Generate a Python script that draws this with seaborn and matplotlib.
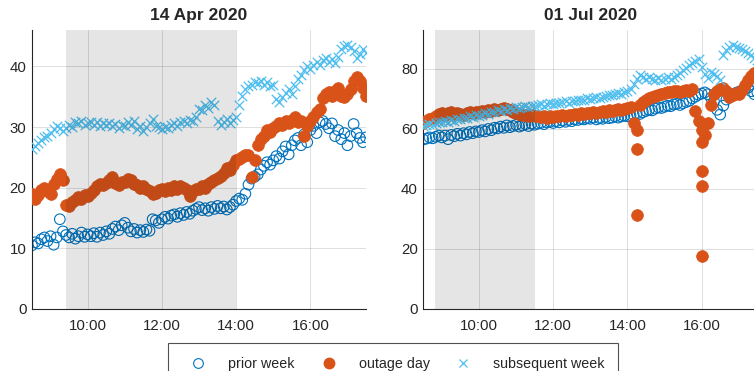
import numpy as np
import pandas as pd
import matplotlib
matplotlib.use("Agg")
import matplotlib.pyplot as plt
from matplotlib.lines import Line2D
import seaborn as sns

# ---------------- data (5-minute samples, 08:30 .. 17:30) ----------------
titles = ["14 Apr 2020", "01 Jul 2020"]
series_names = ["prior week", "outage day", "subsequent week"]
xtick_hours = [10, 12, 14, 16]
xtick_labels = ["10:00", "12:00", "14:00", "16:00"]
yticks_left = [0, 10, 20, 30, 40]
yticks_right = [0, 20, 40, 60, 80]
shade_left = (9.42, 14.0)
shade_right = (8.82, 11.51)

# 14 Apr 2020
apr_prior = [10.5, 11.0, 10.8, 11.5, 11.8, 11.2,
             12.0, 10.6, 11.8, 14.8, 12.8, 12.2, 11.8, 12.4, 11.6, 12.0, 12.6, 11.9,
             12.3, 12.0, 12.5, 11.9, 12.6, 12.2, 12.8, 12.4, 13.2, 13.6, 13.0, 13.8,
             14.2, 13.4, 12.8, 13.2, 12.6, 13.0, 12.7, 13.1, 12.9, 14.8, 14.6, 14.2,
             14.8, 15.2, 14.9, 15.4, 15.6, 15.2, 15.8, 15.5, 16.0, 15.7, 16.2, 16.5,
             16.8, 16.3, 16.6, 16.2, 16.8, 16.5, 17.0, 16.6, 16.9, 16.4, 16.8, 17.2,
             17.8, 18.2, 18.0, 19.0, 20.5, 21.5, 21.8, 22.2, 23.0, 23.6, 24.2, 23.8,
             24.5, 25.2, 24.8, 26.0, 26.8, 25.5, 27.0, 27.8, 28.2, 27.0, 28.8, 27.5,
             29.5, 30.2, 29.0, 30.8, 31.0, 30.5, 29.8, 30.6, 28.5, 29.5, 28.0, 29.0,
             27.0, 28.5, 30.5, 29.0, 28.2, 27.5, 28.3]
apr_outage = [19.0, 18.2, 18.8, 19.6, 20.0, 19.4,
              19.0, 20.6, 21.4, 22.3, 21.2, 17.2, 17.0, 17.6, 18.0, 18.4, 18.2, 18.8,
              18.6, 19.2, 19.6, 20.2, 20.6, 20.4, 20.8, 21.2, 21.7, 20.8, 20.5, 20.9,
              21.0, 21.5, 21.2, 20.6, 20.4, 20.0, 20.2, 19.8, 19.4, 18.9, 19.2, 19.6,
              19.8, 19.4, 20.0, 19.6, 20.2, 19.8, 20.3, 19.9, 19.6, 18.6, 19.4, 19.8,
              19.8, 20.2, 20.0, 20.6, 21.0, 21.2, 21.6, 22.0, 22.4, 23.2, 23.0, 23.8,
              24.6, 24.8, 25.0, 25.4, 25.4, 21.8, 24.5, 27.0, 28.0, 28.5, 29.5, 29.2,
              29.8, 30.2, 30.6, 30.4, 31.0, 30.6, 31.2, 31.6, 30.8, 31.0, 28.5, 30.2,
              31.0, 31.6, 32.4, 33.0, 34.8, 35.4, 35.8, 35.2, 36.0, 36.4, 35.2, 35.0,
              35.4, 36.2, 37.6, 38.2, 37.6, 36.4, 35.2]
apr_subsequent = [26.3, 26.8, 27.4, 27.8, 28.4, 28.6,
                  29.0, 29.6, 30.2, 29.8, 29.4, 29.8, 30.4, 30.0, 30.8, 30.6, 31.0, 30.4,
                  30.6, 30.9, 30.4, 30.8, 30.2, 30.6, 30.3, 30.7, 30.2, 30.5, 29.8, 30.4,
                  30.2, 30.8, 30.4, 31.0, 29.6, 30.2, 29.4, 30.0, 30.6, 31.4, 30.2, 30.0,
                  29.6, 30.0, 29.8, 30.4, 30.6, 30.2, 30.8, 31.0, 30.6, 31.2, 31.0, 31.6,
                  33.0, 32.8, 33.6, 33.2, 34.2, 33.6, 31.0, 30.4, 30.8, 31.4, 30.6, 31.2,
                  31.6, 33.6, 35.2, 36.2, 36.8, 37.0, 37.4, 37.2, 37.6, 37.0, 37.4, 36.8,
                  37.0, 34.6, 34.2, 35.0, 35.6, 36.2, 35.4, 36.8, 38.0, 38.6, 39.4, 40.0,
                  39.6, 40.2, 40.8, 40.2, 41.0, 41.4, 40.8, 41.2, 40.6, 41.6, 42.8, 43.4,
                  43.6, 43.2, 42.6, 41.4, 42.0, 42.8, 42.2]

# 01 Jul 2020
jul_prior = [56.5, 56.8, 57.2, 56.9, 57.4, 57.8,
             57.2, 57.8, 56.6, 58.0, 57.6, 58.4, 57.8, 58.6, 58.2, 59.0, 58.6, 59.2,
             59.0, 59.6, 59.2, 60.0, 59.6, 60.4, 60.2, 60.8, 60.4, 61.2, 60.6, 61.0,
             61.4, 60.8, 61.2, 61.6, 61.0, 61.8, 61.4, 61.8, 62.0, 61.6, 62.2, 62.4,
             62.0, 62.6, 62.2, 62.8, 62.4, 63.0, 62.6, 63.2, 63.0, 63.4, 63.2, 63.6,
             63.4, 63.8, 63.2, 63.6, 63.4, 64.0, 63.6, 63.8, 64.2, 63.8, 64.2, 64.4,
             64.2, 64.6, 64.8, 65.2, 65.0, 65.6, 66.0, 66.4, 66.2, 66.8, 67.2, 67.0,
             67.4, 67.8, 67.6, 68.2, 68.4, 68.0, 68.6, 69.0, 69.4, 70.2, 70.8, 71.4,
             71.8, 72.2, 71.6, 70.4, 69.2, 66.4, 64.8, 67.8, 69.8, 70.6, 71.4, 72.0,
             72.4, 72.8, 73.4, 73.8, 72.6, 71.6, 72.2]
jul_outage = [62.0, 62.6, 63.2, 63.8, 64.4, 65.0,
              65.4, 64.8, 65.2, 65.6, 64.8, 65.4, 65.0, 64.6, 65.2, 65.6, 65.2, 65.8,
              65.6, 66.0, 65.8, 66.4, 66.0, 66.6, 66.2, 66.8, 67.0, 66.6, 66.2, 65.8,
              65.4, 65.0, 64.6, 64.8, 64.4, 64.6, 64.2, 64.4, 64.0, 64.2, 63.8, 64.2,
              64.0, 64.4, 64.2, 64.6, 64.4, 64.8, 64.6, 65.0, 64.8, 65.2, 65.0, 65.4,
              65.2, 65.6, 65.4, 65.8, 66.0, 65.8, 66.2, 66.0, 66.4, 66.6, 66.2, 66.8,
              67.0, 67.4, 62.0, 59.6, 68.0, 69.0, 69.6, 70.2, 70.6, 71.0, 71.4, 71.8,
              72.0, 72.4, 72.2, 72.6, 72.8, 72.4, 72.6, 73.0, 72.6, 73.2, 66.0, 62.6,
              59.6, 58.0, 62.0, 68.0, 71.5, 72.6, 73.2, 73.6, 72.8, 70.6, 71.4, 72.0,
              71.8, 73.0, 74.8, 76.4, 77.8, 78.6, 79.0]
jul_outage_spike_hours = [14.25, 14.25, 16.0, 16.0, 16.0, 16.0]
jul_outage_spike_values = [53.2, 31.4, 55.7, 45.9, 41.1, 17.6]
jul_subsequent = [61.0, 61.4, 61.8, 61.2, 62.0, 62.4,
                  62.2, 62.6, 62.4, 63.0, 62.8, 63.4, 63.2, 63.8, 63.6, 64.2, 64.0, 64.6,
                  64.4, 64.8, 65.2, 65.0, 65.6, 65.8, 66.2, 66.0, 66.6, 66.4, 67.0, 66.8,
                  67.2, 67.0, 67.4, 67.6, 67.2, 67.8, 67.6, 68.0, 68.2, 67.8, 68.4, 68.6,
                  68.4, 68.8, 68.6, 69.0, 69.2, 68.8, 69.4, 69.2, 69.6, 69.8, 69.6, 70.2,
                  70.0, 70.4, 70.6, 70.2, 70.8, 71.0, 71.4, 71.2, 71.6, 72.0, 71.8, 72.4,
                  72.6, 73.4, 75.0, 76.8, 78.0, 77.2, 76.6, 77.4, 76.8, 76.2, 77.0, 76.4,
                  76.8, 77.2, 76.6, 77.4, 78.0, 78.8, 79.6, 80.4, 81.2, 82.0, 82.8, 83.4,
                  80.6, 78.2, 77.0, 79.0, 78.4, 77.6, 76.2, 84.6, 86.2, 87.4, 88.0, 87.2,
                  87.0, 86.6, 86.0, 85.4, 84.6, 83.8, 83.0]

hours = 8.5 + np.arange(len(apr_prior)) * 5 / 60.0

# ---------------- style ----------------
C_BLUE = "#0072BD"
C_ORANGE = "#D95319"
C_LIGHT = "#4DBEEE"
AX_COL = "#262626"

sns.set_style("white")
plt.rcParams["font.family"] = ["Liberation Sans", "DejaVu Sans"]

fig = plt.figure(figsize=(7.54, 3.71), dpi=100)
ax_l = fig.add_axes([32 / 754, 1 - 309 / 371, 334 / 754, 279 / 371])
ax_r = fig.add_axes([423.3 / 754, 1 - 309 / 371, 334 / 754, 279 / 371])


def draw(ax, prior, outage, subsequent, ylim, yticks, shade, title,
         spike_x=None, spike_y=None):
    d = pd.DataFrame({"t": hours, "prior": prior, "outage": outage,
                      "subsequent": subsequent})
    sns.scatterplot(data=d, x="t", y="prior", ax=ax, marker="o", s=58,
                    color=C_BLUE, facecolor="none", edgecolor=C_BLUE,
                    linewidth=0.8, zorder=2)
    sns.scatterplot(data=d, x="t", y="outage", ax=ax, marker="o", s=72,
                    color=C_ORANGE, edgecolor=C_ORANGE, linewidth=0.5, zorder=3)
    if spike_x is not None:
        sns.scatterplot(x=spike_x, y=spike_y, ax=ax, marker="o", s=72,
                        color=C_ORANGE, edgecolor=C_ORANGE, linewidth=0.5, zorder=3)
    sns.scatterplot(data=d, x="t", y="subsequent", ax=ax, marker="x", s=46,
                    color=C_LIGHT, linewidth=0.9, zorder=4)
    ax.axvspan(shade[0], shade[1], color="k", alpha=0.1, lw=0, zorder=5)
    ax.set_xlim(8.5, 17.5)
    ax.set_ylim(*ylim)
    ax.set_xticks(xtick_hours)
    ax.set_xticklabels(xtick_labels)
    ax.set_yticks(yticks)
    ax.set_xlabel("")
    ax.set_ylabel("")
    ax.grid(True, color=AX_COL, alpha=0.15, linewidth=0.7)
    ax.set_axisbelow(True)
    for side in ["top", "right"]:
        ax.spines[side].set_visible(False)
    for side in ["left", "bottom"]:
        ax.spines[side].set_color(AX_COL)
        ax.spines[side].set_linewidth(0.8)
    ax.tick_params(direction="in", length=3, width=0.6, colors=AX_COL,
                   labelsize=10.8, labelcolor=AX_COL)
    ax.tick_params(axis="x", pad=7)
    ax.tick_params(axis="y", pad=4)
    ax.set_title(title, fontsize=12.5, fontweight="bold", pad=7)
    if ax.get_legend() is not None:
        ax.get_legend().remove()


draw(ax_l, apr_prior, apr_outage, apr_subsequent, (0, 46), yticks_left,
     shade_left, titles[0])
draw(ax_r, jul_prior, jul_outage, jul_subsequent, (0, 93), yticks_right,
     shade_right, titles[1], jul_outage_spike_hours, jul_outage_spike_values)

handles = [
    Line2D([], [], ls="none", marker="o", markersize=7, markerfacecolor="none",
           markeredgecolor=C_BLUE, markeredgewidth=0.8),
    Line2D([], [], ls="none", marker="o", markersize=7.5, markerfacecolor=C_ORANGE,
           markeredgecolor=C_ORANGE),
    Line2D([], [], ls="none", marker="x", markersize=6, markeredgecolor=C_LIGHT,
           markeredgewidth=0.9),
]
leg = fig.legend(handles, series_names, loc="upper center",
                 bbox_to_anchor=(393 / 754, 1 - 343 / 371), ncol=3,
                 fontsize=10.3, frameon=True, fancybox=False, edgecolor=AX_COL,
                 handlelength=2.4, handletextpad=0.9, columnspacing=1.15,
                 borderpad=0.95, borderaxespad=0)
leg.get_frame().set_linewidth(0.8)

fig.savefig("out.png", dpi=100)
